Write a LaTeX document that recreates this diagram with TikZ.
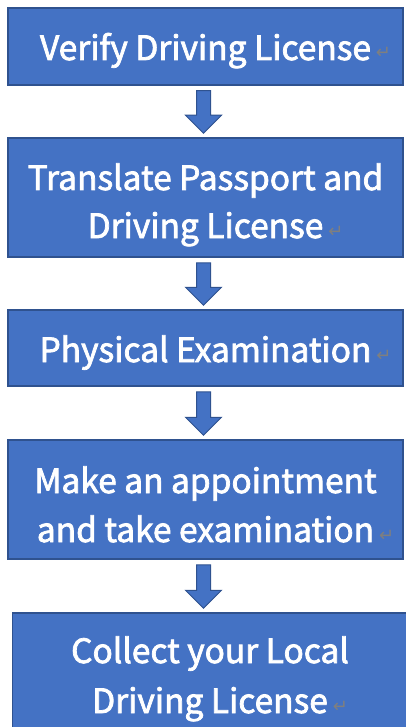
\documentclass[tikz,border=0pt]{standalone}
\usepackage{fontspec}
\setmainfont{Noto Sans CJK SC}[FakeBold=2.2]
\newfontfamily\markfont{DejaVu Sans}
\usetikzlibrary{calc}
\definecolor{boxfill}{HTML}{4472C4}
\definecolor{boxline}{HTML}{2F528F}
\definecolor{markgray}{HTML}{7F7F7F}
\tikzset{
  stepbox/.style={draw=boxline, line width=1.5pt, fill=boxfill, text=white,
    align=center, inner sep=0pt, minimum width=395pt,
    font=\fontsize{33.5}{48}\selectfont},
  blockarrow/.style={draw=boxline, line width=1pt, fill=boxfill, line join=miter},
}
\newcommand\pmark{\rlap{\hspace{5pt}\raisebox{1pt}{\markfont\fontsize{18}{18}\selectfont\color{markgray}↵}}}
\newcommand\flowarrow[2]{%
  \draw[blockarrow] let \p1=(#1.south), \p2=(#2.north) in
    (\x1-9pt,\y1-5pt) -- (\x1+5pt,\y1-5pt) -- (\x1+5pt,\y2+22pt) --
    (\x1+16pt,\y2+22pt) -- (\x1-2pt,\y2+4pt) -- (\x1-20pt,\y2+22pt) --
    (\x1-9pt,\y2+22pt) -- cycle;}
\begin{document}
\begin{tikzpicture}[x=1pt,y=1pt]
\useasboundingbox (0,0) rectangle (405,-727);
\node[stepbox, minimum height=77pt, text height=35pt, text depth=8pt] (b1) at (205.5,-46.5) {Verify Driving License\pmark};
\node[stepbox, minimum height=119pt, text height=89pt, text depth=8pt] (b2) at (205.5,-197.5) {Translate Passport and\\Driving License\pmark};
\node[stepbox, minimum height=76pt, text height=36pt, text depth=8pt] (b3) at (205.5,-348) {Physical Examination\pmark};
\node[stepbox, minimum height=119pt, text height=93pt, text depth=8pt] (b4) at (205.5,-499.5) {Make an appointment\\[1pt]and take examination\pmark};
\node[stepbox, minimum height=117pt, text height=91pt, text depth=8pt] (b5) at (210,-671.5) {Collect your Local\\[2pt]Driving License\pmark};
\flowarrow{b1}{b2}
\flowarrow{b2}{b3}
\flowarrow{b3}{b4}
\flowarrow{b4}{b5}
\end{tikzpicture}
\end{document}
